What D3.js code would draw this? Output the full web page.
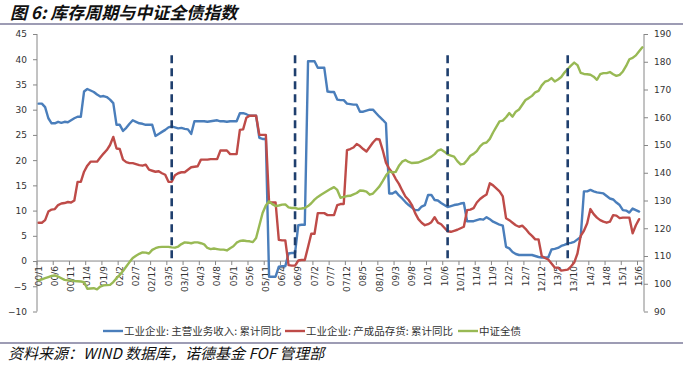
<!DOCTYPE html>
<html><head><meta charset="utf-8">
<script src="https://cdn.jsdelivr.net/npm/d3@7"></script>
<style>html,body{margin:0;padding:0;background:#fff;}svg{display:block;}</style>
</head><body>
<svg id="chart" width="688" height="382"></svg>
<script>
// ---- data ----
const startYear = 0, endYear = 15, endMonth = 7;
const months = [];
for (let y = startYear; y <= endYear; y++) {
  for (let m = 1; m <= 12; m++) {
    if (y === endYear && m > endMonth) break;
    months.push(String(y).padStart(2, "0") + "/" + m);
  }
}
const seriesNames = ["工业企业: 主营业务收入: 累计同比", "工业企业: 产成品存货: 累计同比", "中证全债"];
const revenueYoY = [31.2,31.2,30.5,28.3,27.3,27.3,27.6,27.4,27.6,27.5,27.9,28.3,28.6,28.6,33.6,34.1,33.8,33.5,33.0,32.6,
32.7,32.5,32.0,31.3,27.0,27.0,25.8,26.4,27.2,27.9,27.6,27.3,27.2,27.0,27.0,27.0,24.8,25.2,25.6,26.0,
26.5,26.7,26.5,26.3,26.4,26.2,26.1,25.2,27.7,27.7,27.7,27.7,27.6,27.7,27.8,27.9,27.7,27.7,27.6,27.7,
27.7,27.7,29.3,29.3,29.1,28.8,28.8,28.8,24.4,24.2,24.2,-3.1,-3.1,-3.1,-1.1,-1.0,-1.0,1.5,1.6,1.6,
7.1,7.2,7.2,39.6,39.6,39.6,38.3,38.3,38.3,33.6,33.5,33.5,32.0,31.9,31.9,31.2,31.1,31.0,31.0,29.6,
29.6,29.8,30.0,30.0,29.3,28.6,28.0,27.3,13.4,13.4,13.8,13.0,12.4,11.7,11.1,10.6,10.1,10.1,10.8,11.1,
13.1,13.1,12.1,12.0,11.5,11.1,10.7,10.9,11.1,11.2,11.4,11.5,7.9,7.9,7.9,8.1,8.3,8.2,8.7,8.3,
7.8,7.5,7.2,7.0,2.8,2.5,1.8,1.4,1.2,1.2,1.2,1.2,1.2,1.0,0.8,0.7,0.7,0.7,2.3,2.4,
2.6,3.0,3.2,3.5,3.6,3.8,4.3,4.8,13.8,13.8,14.1,13.8,13.6,13.5,13.4,12.9,12.4,12.2,11.6,11.1,
10.1,10.0,9.6,10.4,10.1,9.8];
const inventoryYoY = [7.6,7.6,8.1,9.8,10.2,10.3,11.1,11.4,11.5,11.7,11.6,12.0,15.7,15.7,17.7,18.9,19.7,19.7,19.7,20.5,
21.3,22.0,23.0,24.6,22.3,22.2,20.1,19.6,19.4,19.4,19.2,19.0,18.9,19.1,18.1,17.9,17.7,17.8,17.4,17.1,
15.7,15.7,17.0,17.4,17.6,17.6,18.1,18.6,18.7,18.8,20.1,20.1,20.1,20.2,20.2,20.2,21.9,21.9,21.9,21.2,
21.2,21.2,26.0,26.1,28.4,28.8,28.8,28.8,25.0,25.0,25.0,11.6,11.6,11.6,4.2,4.1,4.1,-0.8,-0.9,-0.9,
0.1,0.2,0.2,2.8,5.4,5.4,9.5,9.5,9.5,9.1,9.1,9.1,11.1,11.3,11.3,22.0,22.2,22.5,23.2,22.8,
22.2,21.7,22.6,23.5,24.2,24.1,22.0,19.5,18.3,17.5,16.3,15.3,14.0,12.8,12.1,11.1,9.5,8.3,7.6,7.1,
7.3,7.7,8.7,7.6,7.3,6.6,5.9,5.8,6.0,6.2,6.5,6.8,10.1,10.2,10.5,11.6,12.3,12.8,13.2,15.4,
15.0,14.4,13.8,12.8,8.5,8.1,7.6,7.1,6.8,7.0,6.4,5.6,5.0,4.3,4.3,1.0,0.6,0.3,-0.5,-1.3,
-1.3,-1.9,-1.8,-1.7,-1.1,-0.3,1.5,5.0,6.0,7.5,10.3,9.3,8.6,8.1,7.8,7.6,7.8,9.1,9.0,8.5,
8.6,8.6,8.6,5.5,7.1,8.3];
const bondIndex = [101.2,101.6,102.0,102.4,102.8,103.0,102.6,102.0,101.4,101.2,101.2,101.0,100.9,100.8,100.6,98.2,98.3,98.4,98.0,99.0,
99.4,99.5,99.6,100.6,102.0,103.2,104.6,106.2,107.8,109.3,110.1,110.8,111.3,111.2,110.9,112.2,112.8,113.2,113.3,113.3,
113.3,113.1,113.0,113.4,114.3,114.9,114.8,114.6,114.9,114.9,114.6,114.2,112.9,112.5,112.7,112.5,112.3,112.3,112.0,112.8,
113.5,114.8,115.4,115.6,115.4,115.3,115.0,116.5,121.0,125.5,128.2,129.7,128.7,128.0,128.2,128.5,128.6,127.5,127.3,127.3,
127.0,127.1,127.3,128.0,129.0,130.3,131.3,132.1,132.8,133.5,134.2,134.8,133.8,131.0,131.3,131.6,131.7,132.2,132.7,133.6,
133.5,133.2,132.1,132.5,133.8,135.1,137.0,139.0,140.5,140.1,140.3,142.5,144.0,144.6,143.9,143.5,143.6,143.7,144.2,144.7,
145.2,145.8,146.7,148.0,148.4,147.6,146.6,146.2,145.8,144.2,143.0,143.2,144.5,146.1,146.8,147.8,149.5,150.6,150.9,152.2,
154.5,156.5,158.5,158.8,160.0,161.5,160.2,162.0,162.8,164.5,166.2,166.9,167.7,169.0,169.5,171.5,172.8,173.2,174.1,172.9,
173.6,174.5,176.1,177.4,178.6,179.7,178.8,176.0,175.6,175.5,175.3,174.6,173.5,175.5,175.9,175.9,176.3,175.5,174.9,175.3,
176.5,178.5,180.9,181.4,182.3,183.8,185.2];
const cycleMarks = ["03/6", "06/8", "10/7", "13/8"];
const leftTicks = [-10,-5,0,5,10,15,20,25,30,35,40,45];
const rightTicks = [90,100,110,120,130,140,150,160,170,180,190];
const labelStep = 5;
const titleText = "图 6: 库存周期与中证全债指数";
const sourceText = "资料来源：WIND 数据库，诺德基金 FOF 管理部";

// ---- drawing ----
const svg = d3.select("#chart");
const colors = ["#4A7EBB", "#BE4B48", "#98B954"];
const axisColor = "#868686";
const textColor = "#333";
const numFont = "DejaVu Sans, Verdana, sans-serif";
const cjkFont = "'Noto Sans CJK SC', sans-serif";

const x = d3.scaleBand().domain(months).range([37, 644]).padding(0);
const cx = d => x(d) + x.bandwidth() / 2;
const yL = d3.scaleLinear().domain([-10, 45]).range([311.5, 34]);
const yR = d3.scaleLinear().domain([90, 190]).range([311.5, 34]);

// title & rules
svg.append("text").attr("x", 10).attr("y", 18.5)
  .attr("font-family", cjkFont).attr("font-size", 17).attr("font-weight", "bold")
  .attr("font-style", "italic").attr("fill", "#111").text(titleText);
svg.append("line").attr("x1", 0).attr("x2", 683).attr("y1", 24).attr("y2", 24)
  .attr("stroke", "#3D3A6B").attr("stroke-width", 1.2);
svg.append("line").attr("x1", 0).attr("x2", 683).attr("y1", 343).attr("y2", 343)
  .attr("stroke", "#3D3A6B").attr("stroke-width", 1.2);
svg.append("text").attr("x", 8).attr("y", 359)
  .attr("font-family", cjkFont).attr("font-size", 15)
  .attr("font-style", "italic").attr("fill", "#111").text(sourceText);

// left axis
const gl = svg.append("g").attr("transform", "translate(37,0)");
gl.call(d3.axisLeft(yL).tickValues(leftTicks).tickSize(4).tickPadding(6));
// right axis
const gr = svg.append("g").attr("transform", "translate(644,0)");
gr.call(d3.axisRight(yR).tickValues(rightTicks).tickSize(4).tickPadding(6));
[gl, gr].forEach(g => {
  g.select(".domain").attr("stroke", axisColor);
  g.selectAll(".tick line").attr("stroke", axisColor);
  g.selectAll("text").attr("font-family", numFont).attr("font-size", 9).attr("fill", textColor);
});
gl.select(".domain").attr("d", `M0,${yL(45)}V${yL(-10)}`);
gr.select(".domain").attr("d", `M0,${yR(190)}V${yR(90)}`);

// category axis at y = 0
const labeled = months.filter((m, i) => i % labelStep === 0);
const gx = svg.append("g").attr("transform", `translate(0,${yL(0)})`);
gx.append("line").attr("x1", 37).attr("x2", 644).attr("stroke", axisColor);
gx.selectAll(".xt").data(labeled).join("line").attr("class", "xt")
  .attr("x1", d => x(d)).attr("x2", d => x(d)).attr("y1", 0).attr("y2", 4)
  .attr("stroke", axisColor);
gx.selectAll(".xl").data(labeled).join("text").attr("class", "xl")
  .attr("transform", d => `translate(${cx(d)},5) rotate(-90)`)
  .attr("text-anchor", "end").attr("dy", "0.35em")
  .attr("font-family", numFont).attr("font-size", 9).attr("fill", textColor)
  .text(d => d);

// series
const lineL = d3.line().x((d, i) => cx(months[i])).y(d => yL(d));
const lineR = d3.line().x((d, i) => cx(months[i])).y(d => yR(d));
[[revenueYoY, lineL], [inventoryYoY, lineL], [bondIndex, lineR]].forEach(([data, gen], k) => {
  svg.append("path").attr("d", gen(data)).attr("fill", "none")
    .attr("stroke", colors[k]).attr("stroke-width", 2.4)
    .attr("stroke-linejoin", "round").attr("stroke-linecap", "round");
});

// cycle markers
svg.selectAll(".cyc").data(cycleMarks).join("line").attr("class", "cyc")
  .attr("x1", d => cx(d)).attr("x2", d => cx(d))
  .attr("y1", yL(40.8)).attr("y2", yL(0))
  .attr("stroke", "#1F3F6E").attr("stroke-width", 2.6).attr("stroke-dasharray", "8,5");

// legend
const legX = [103, 285, 458];
const lg = svg.selectAll(".leg").data(seriesNames).join("g").attr("class", "leg")
  .attr("transform", (d, i) => `translate(${legX[i]},331)`);
lg.append("line").attr("x1", 0).attr("x2", 20).attr("stroke", (d, i) => colors[i]).attr("stroke-width", 2.4);
lg.append("text").attr("x", 21).attr("dy", "0.35em")
  .attr("font-family", cjkFont).attr("font-size", 10.5).attr("fill", textColor).text(d => d);
</script>
</body></html>
